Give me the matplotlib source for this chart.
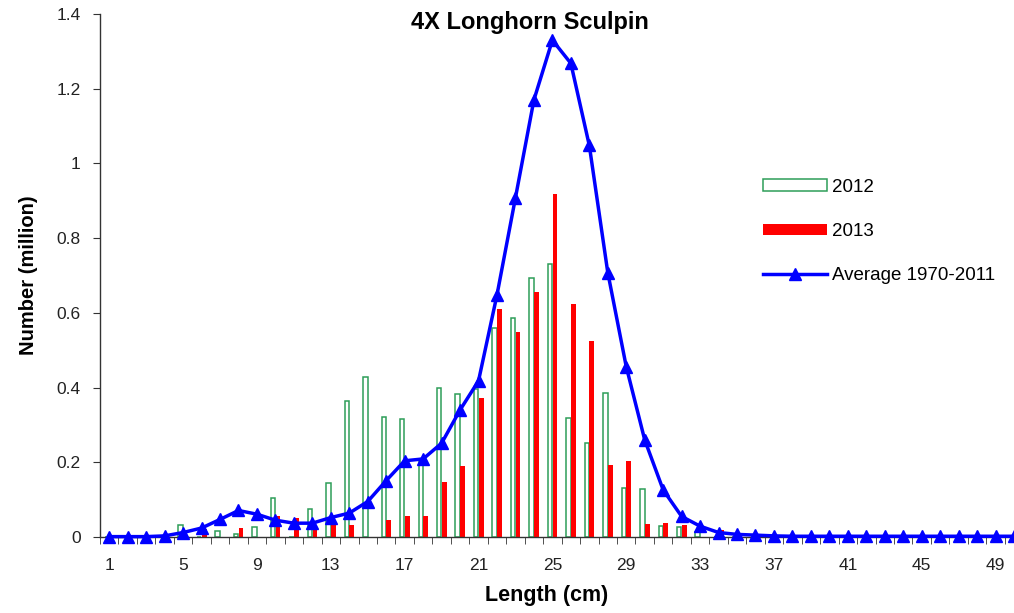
import numpy as np
import matplotlib
matplotlib.use("Agg")
import matplotlib.pyplot as plt

plt.rcParams['font.family'] = ['Liberation Sans', 'DejaVu Sans']

# length classes (cm)
lengths = list(range(1, 51))

# number (million) by length, 2012
n2012 = [0, 0, 0, 0, 0.033, 0, 0.017, 0.008, 0.028, 0.104,
         0, 0.075, 0.144, 0.364, 0.429, 0.322, 0.316, 0.21, 0.40, 0.382,
         0.395, 0.560, 0.587, 0.694, 0.731, 0.319, 0.251, 0.385, 0.130, 0.128,
         0.030, 0.028, 0.014, 0, 0, 0, 0, 0, 0, 0,
         0, 0, 0, 0, 0, 0, 0, 0, 0, 0]

# number (million) by length, 2013
n2013 = [0, 0, 0, 0, 0, 0.022, 0, 0.025, 0, 0.056,
         0.052, 0.03, 0.036, 0.032, 0, 0.046, 0.056, 0.056, 0.148, 0.19,
         0.371, 0.611, 0.550, 0.657, 0.918, 0.625, 0.526, 0.193, 0.203, 0.035,
         0.038, 0.031, 0, 0.018, 0.011, 0, 0, 0, 0, 0,
         0, 0, 0, 0, 0, 0, 0, 0, 0, 0]

# average 1970-2011
avg = [0.001, 0.001, 0.001, 0.003, 0.012, 0.024, 0.047, 0.071, 0.061, 0.045,
       0.037, 0.037, 0.052, 0.064, 0.095, 0.151, 0.204, 0.209, 0.251, 0.340,
       0.418, 0.648, 0.908, 1.170, 1.330, 1.268, 1.048, 0.708, 0.456, 0.260,
       0.126, 0.055, 0.029, 0.012, 0.007, 0.005, 0.003, 0.002, 0.002, 0.002,
       0.002, 0.002, 0.002, 0.002, 0.002, 0.002, 0.002, 0.002, 0.002, 0.002]

x = np.array(lengths)

fig = plt.figure(figsize=(10.14, 6.13), dpi=100)
ax = fig.add_axes([100 / 1014, 1 - 537 / 613, 914 / 1014, 523 / 613])

bw = 0.24
b1 = ax.bar(x - 0.13, n2012, width=bw, facecolor='white', edgecolor='#2E9E58',
            linewidth=1.1, label='2012', zorder=2)
b2 = ax.bar(x + 0.14, n2013, width=bw + 0.02, color='#FF0000', linewidth=0,
            label='2013', zorder=2)
ln, = ax.plot(x, avg, color='#0000FF', lw=2.5, marker='^', markersize=8.5,
              label='Average 1970-2011', zorder=3, clip_on=False)

ax.set_xlim(0.5, 50.0)
ax.set_ylim(0, 1.4)
ax.set_xticks(x[::4])
ax.set_xticklabels([str(v) for v in lengths[::4]])
ax.set_xticks(np.arange(0.5, 50, 1), minor=True)
ax.tick_params(axis='x', which='major', length=0, pad=15, labelsize=12.5, colors='#222222')
ax.tick_params(axis='x', which='minor', length=5, direction='out', color='#333333')
ax.set_yticks(np.arange(0, 1.41, 0.2))
ax.set_yticklabels(['0', '0.2', '0.4', '0.6', '0.8', '1', '1.2', '1.4'])
ax.tick_params(axis='y', length=5, direction='out', labelsize=12.5, colors='#222222', pad=9)
ax.tick_params(axis='y', color='#333333')

for s in ['top', 'right']:
    ax.spines[s].set_visible(False)
for s in ['left', 'bottom']:
    ax.spines[s].set_color('#333333')
    ax.spines[s].set_linewidth(1.0)

ax.set_ylabel('Number (million)', fontsize=14.5, fontweight='bold')
ax.yaxis.set_label_coords(-(100 - 38) / 914, 0.5)
ax.set_xlabel('Length (cm)', fontsize=15.5, fontweight='bold')
ax.xaxis.set_label_coords((547 - 100) / 914, -(596 - 537) / 523)
ax.xaxis.label.set_va('center')

fig.text(530 / 1014, 1 - 22 / 613, '4X Longhorn Sculpin', ha='center', va='center',
         fontsize=17, fontweight='bold')

leg = fig.legend(handles=[b1, b2, ln], loc='upper left',
                 bbox_to_anchor=(746 / 1014, 1 - 162 / 613), frameon=False,
                 fontsize=13.5, handlelength=3.4, handleheight=0.6,
                 labelspacing=1.45, handletextpad=0.3)

fig.savefig('out.png', dpi=100)
